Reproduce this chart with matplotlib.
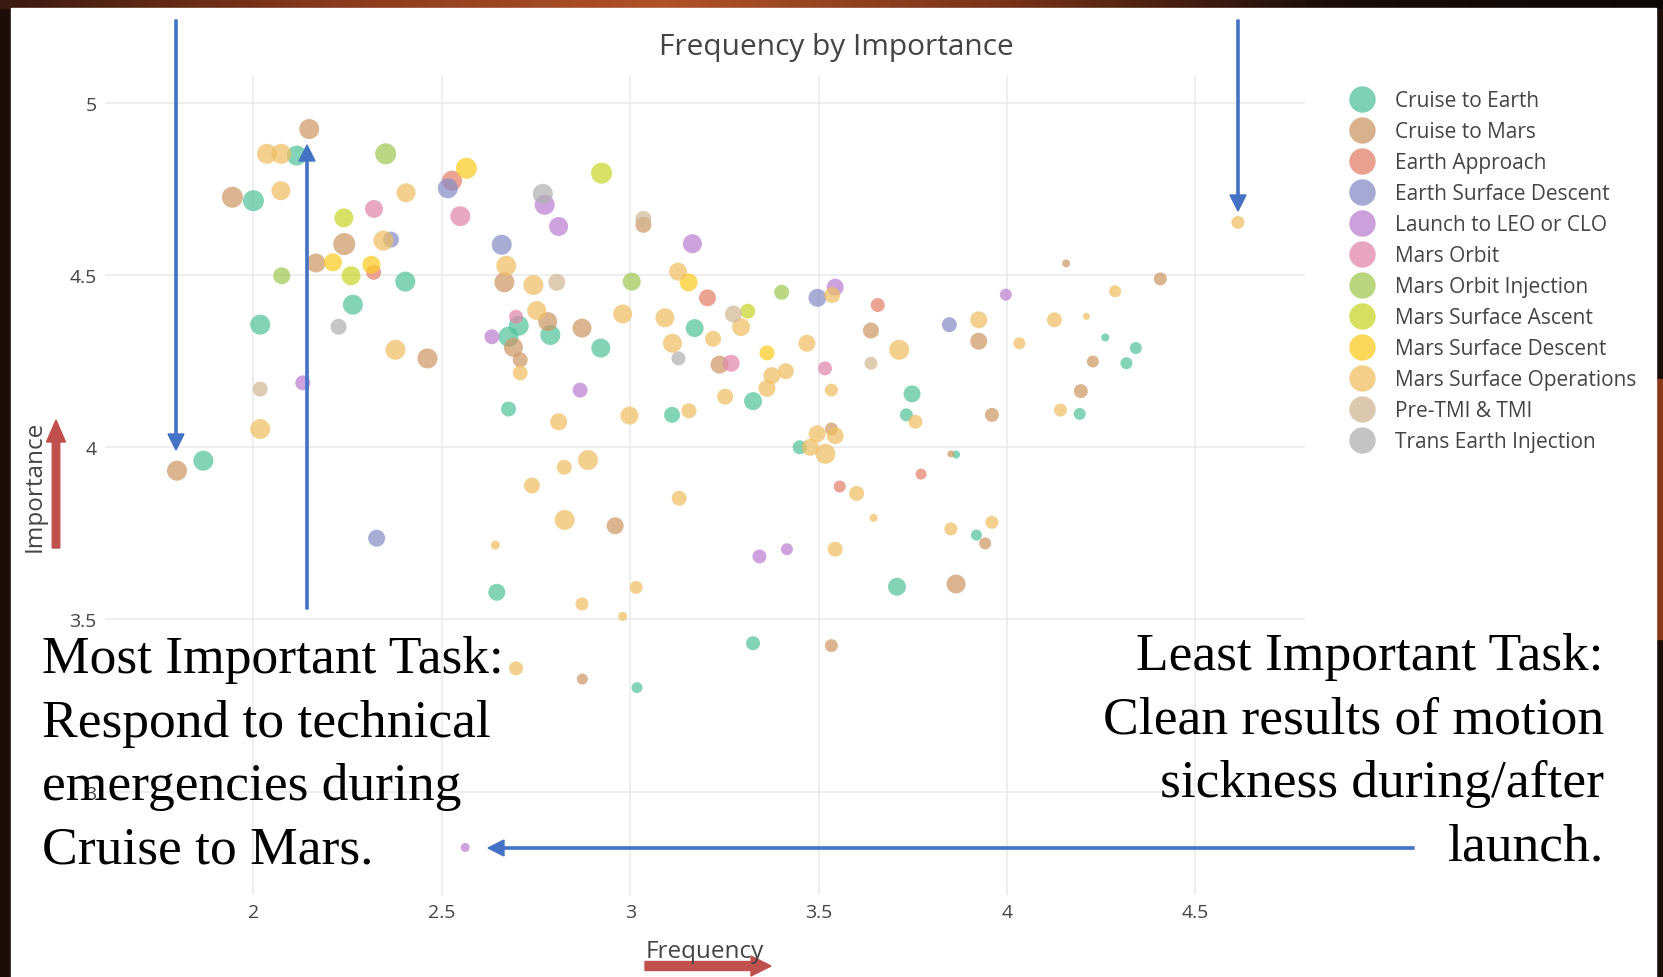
import matplotlib
matplotlib.use('Agg')
import matplotlib.pyplot as plt
import numpy as np
from matplotlib.lines import Line2D
from matplotlib.patches import Rectangle, FancyArrow
from matplotlib.colors import LinearSegmentedColormap

# ---- data: (frequency, importance, bubble diameter in px) per mission phase ----
phases = ['Cruise to Earth', 'Cruise to Mars', 'Earth Approach', 'Earth Surface Descent',
          'Launch to LEO or CLO', 'Mars Orbit', 'Mars Orbit Injection', 'Mars Surface Ascent',
          'Mars Surface Descent', 'Mars Surface Operations', 'Pre-TMI & TMI',
          'Trans Earth Injection']
phase_colors = ['#54c29c', '#cd9766', '#e4806a', '#888cc6', '#bc80d0', '#e087ab',
                '#a2c853', '#c8d62b', '#fbcc23', '#efbf63', '#d0b894', '#b0b0b0']

cruise_earth = [(2.115, 4.847, 20), (2.0, 4.716, 21), (2.403, 4.481, 20), (2.264, 4.414, 20),
                (2.018, 4.356, 20), (2.704, 4.353, 20), (2.677, 4.321, 20), (2.677, 4.111, 15),
                (1.867, 3.961, 20), (2.788, 4.326, 20), (2.922, 4.288, 19), (3.171, 4.346, 18),
                (3.111, 4.094, 16), (3.326, 4.134, 18), (3.748, 4.155, 17), (3.733, 4.094, 13),
                (3.450, 4.000, 14), (4.261, 4.319, 8), (4.342, 4.288, 12), (4.317, 4.244, 12),
                (4.193, 4.097, 12), (3.865, 3.979, 8), (2.646, 3.579, 17), (3.708, 3.595, 18),
                (3.326, 3.431, 14), (3.018, 3.302, 11), (3.919, 3.745, 11)]
cruise_mars = [(2.148, 4.924, 20), (1.944, 4.726, 21), (2.241, 4.590, 22), (2.166, 4.535, 19),
               (2.462, 4.258, 20), (2.666, 4.479, 20), (2.690, 4.290, 19), (2.708, 4.254, 15),
               (1.797, 3.932, 20), (2.781, 4.365, 19), (2.872, 4.346, 19), (3.035, 4.646, 16),
               (3.237, 4.240, 18), (3.639, 4.339, 16), (3.534, 4.053, 13), (4.157, 4.534, 8),
               (4.407, 4.489, 13), (3.925, 4.308, 17), (4.228, 4.249, 12), (4.196, 4.163, 14),
               (3.960, 4.094, 14), (3.851, 3.981, 7), (2.960, 3.772, 17), (3.534, 3.424, 13),
               (2.873, 3.327, 11), (3.942, 3.721, 12), (3.865, 3.603, 19)]
earth_approach = [(2.527, 4.774, 20), (2.319, 4.508, 15), (3.205, 4.434, 17), (3.657, 4.413, 14),
                  (3.772, 3.922, 11), (3.556, 3.886, 12)]
earth_descent = [(2.516, 4.752, 20), (2.365, 4.603, 16), (2.659, 4.588, 20), (3.497, 4.434, 18),
                 (3.847, 4.356, 15), (2.327, 3.736, 17)]
launch_leo = [(2.773, 4.704, 20), (2.810, 4.641, 19), (3.165, 4.591, 19), (3.544, 4.465, 17),
              (2.633, 4.321, 15), (2.131, 4.187, 15), (2.867, 4.166, 15), (3.997, 4.443, 12),
              (3.343, 3.683, 14), (3.416, 3.704, 12), (2.562, 2.838, 9)]
mars_orbit = [(2.320, 4.692, 18), (2.549, 4.671, 20), (2.697, 4.379, 14), (3.268, 4.244, 17),
              (3.517, 4.229, 14)]
orbit_injection = [(2.351, 4.852, 21), (2.075, 4.498, 17), (3.004, 4.481, 18), (3.402, 4.450, 15)]
surface_ascent = [(2.240, 4.666, 19), (2.259, 4.498, 19), (2.924, 4.796, 21), (3.312, 4.395, 15)]
surface_descent = [(2.565, 4.810, 21), (2.211, 4.537, 18), (2.313, 4.530, 18), (3.155, 4.479, 18),
                   (3.363, 4.274, 15)]
surface_ops = [(2.036, 4.852, 20), (2.074, 4.852, 20), (2.073, 4.745, 19), (2.405, 4.739, 19),
               (2.345, 4.600, 20), (2.377, 4.283, 20), (2.671, 4.527, 20), (2.743, 4.471, 20),
               (2.752, 4.397, 19), (2.708, 4.216, 15), (2.018, 4.053, 20), (3.127, 4.510, 18),
               (2.980, 4.387, 19), (3.092, 4.376, 19), (3.294, 4.349, 18), (3.112, 4.302, 19),
               (3.220, 4.315, 16), (3.469, 4.302, 17), (3.714, 4.283, 20), (3.534, 4.166, 13),
               (3.413, 4.221, 16), (3.376, 4.208, 17), (3.363, 4.171, 17), (3.252, 4.147, 16),
               (2.810, 4.074, 17), (2.998, 4.092, 18), (3.156, 4.106, 15), (3.757, 4.074, 14),
               (3.544, 4.034, 17), (3.496, 4.039, 17), (3.478, 4.000, 17), (3.518, 3.981, 20),
               (2.825, 3.942, 15), (2.888, 3.963, 20), (3.536, 4.442, 16), (4.613, 4.653, 13),
               (4.287, 4.453, 12), (3.925, 4.370, 17), (4.033, 4.302, 12), (4.126, 4.370, 15),
               (4.211, 4.380, 7), (4.142, 4.108, 13), (2.739, 3.889, 16), (2.642, 3.716, 9),
               (2.697, 3.358, 14), (3.130, 3.852, 15), (2.826, 3.789, 20), (3.016, 3.593, 13),
               (2.872, 3.545, 13), (2.980, 3.509, 9), (3.544, 3.704, 15), (3.601, 3.866, 15),
               (3.646, 3.795, 8), (3.851, 3.763, 13), (3.960, 3.782, 13)]
pre_tmi = [(3.035, 4.663, 16), (2.805, 4.479, 17), (3.274, 4.387, 17), (3.639, 4.244, 13),
           (2.018, 4.169, 15)]
trans_earth = [(2.768, 4.736, 20), (2.226, 4.350, 16), (3.128, 4.258, 14)]

series = [cruise_earth, cruise_mars, earth_approach, earth_descent, launch_leo, mars_orbit,
          orbit_injection, surface_ascent, surface_descent, surface_ops, pre_tmi, trans_earth]

W, H = 1663, 978
fig = plt.figure(figsize=(W / 100, H / 100), dpi=100)
fig.patch.set_facecolor('#1c0d08')

# slide background: dark mars photo strip round a white panel
bg = fig.add_axes([0, 0, 1, 1], zorder=0)
bg.set_xlim(0, W)
bg.set_ylim(H, 0)
bg.axis('off')
strip = LinearSegmentedColormap.from_list(
    'strip', ['#3a1a10', '#8a3a1c', '#b0522a', '#7a3418', '#1a0d0a', '#0c0807'])
bg.imshow(np.linspace(0, 1, 256)[None, :], cmap=strip, aspect='auto',
          extent=(0, W, 10, 0))
bg.add_patch(Rectangle((1652, 380), 11, 260, color='#8a3a1c'))
bg.add_patch(Rectangle((11, 9), 1645, H - 9, color='white'))
bg.set_xlim(0, W)
bg.set_ylim(H, 0)

# main plot
ax = fig.add_axes([105 / W, 1 - 896 / H, 1200 / W, 819 / H], zorder=1)
ax.set_facecolor('none')
for pts, col in zip(series, phase_colors):
    xs = [p[0] for p in pts]
    ys = [p[1] for p in pts]
    ss = [(p[2] * 0.72) ** 2 for p in pts]
    ax.scatter(xs, ys, s=ss, color=col, alpha=0.72, linewidths=0)

ax.set_xlim(1.606, 4.791)
ax.set_ylim(2.70, 5.078)
ax.set_xticks([2, 2.5, 3, 3.5, 4, 4.5])
ax.set_xticklabels(['2', '2.5', '3', '3.5', '4', '4.5'])
ax.set_yticks([3, 3.5, 4, 4.5, 5])
ax.set_yticklabels(['3', '3.5', '4', '4.5', '5'])
ax.grid(True, color='#ebebeb', linewidth=1.2)
ax.set_axisbelow(True)
for sp in ax.spines.values():
    sp.set_visible(False)
ax.tick_params(length=0, labelsize=14, labelcolor='#444444', pad=6)
for lab in ax.get_xticklabels() + ax.get_yticklabels():
    lab.set_family('Open Sans')

fig.text(836 / W, 1 - 47 / H, 'Frequency by Importance', ha='center', va='center',
         fontsize=21.5, color='#444444', family='Open Sans')
fig.text(705 / W, 1 - 952 / H, 'Frequency', ha='center', va='center',
         fontsize=17.5, color='#444444', family='Open Sans')
fig.text(35 / W, 1 - 486 / H, 'Importance', ha='center', va='center', rotation=90,
         fontsize=17.5, color='#444444', family='Open Sans', zorder=5)

handles = [Line2D([], [], marker='o', linestyle='', markersize=19, markerfacecolor=c,
                  markeredgewidth=0, alpha=0.75) for c in phase_colors]
leg = fig.legend(handles, phases, loc='upper left', bbox_to_anchor=(1351.6 / W, 1 - 91 / H),
                 frameon=False, fontsize=15, handlelength=1.0, handletextpad=1.087,
                 labelspacing=0.48, borderpad=0, borderaxespad=0)
for t in leg.get_texts():
    t.set_color('#444444')
    t.set_family('Open Sans')

# overlay for the slide annotations (pixel coordinates)
ov = fig.add_axes([0, 0, 1, 1], zorder=3)
ov.set_xlim(0, W)
ov.set_ylim(H, 0)
ov.axis('off')

blue = '#4472c4'
red = '#c0504d'
ov.add_patch(FancyArrow(176, 21, 0, 430, width=2.2, head_width=16, head_length=16,
                        length_includes_head=True, color=blue))
ov.add_patch(FancyArrow(307, 610, 0, -464, width=2.2, head_width=16, head_length=16,
                        length_includes_head=True, color=blue))
ov.add_patch(FancyArrow(1238, 21, 0, 191, width=2.2, head_width=16, head_length=16,
                        length_includes_head=True, color=blue))
ov.add_patch(FancyArrow(1414, 849, -926, 0, width=2.2, head_width=16, head_length=16,
                        length_includes_head=True, color=blue))
ov.add_patch(FancyArrow(56, 549, 0, -128, width=7.5, head_width=19, head_length=22,
                        length_includes_head=True, color=red))
ov.add_patch(FancyArrow(645, 967, 126, 0, width=9, head_width=20, head_length=20,
                        length_includes_head=True, color=red))

left_lines = ['Most Important Task:', 'Respond to technical', 'emergencies during',
              'Cruise to Mars.']
right_lines = ['Least Important Task:', 'Clean results of motion', 'sickness during/after',
               'launch.']
for i, s in enumerate(left_lines):
    ov.text(42, 673 + 63.5 * i, s, ha='left', va='baseline', fontsize=38.5,
            family='Liberation Serif', color='black')
for i, s in enumerate(right_lines):
    ov.text(1604, 670 + 63.5 * i, s, ha='right', va='baseline', fontsize=38.5,
            family='Liberation Serif', color='black')

fig.savefig('out.png', dpi=100, facecolor=fig.get_facecolor())
